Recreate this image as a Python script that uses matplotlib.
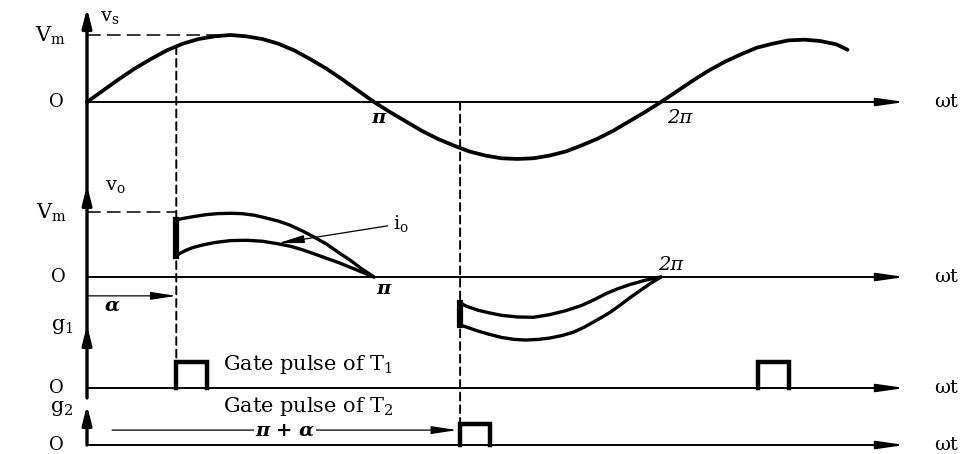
import numpy as np
import matplotlib.pyplot as plt
from matplotlib.patches import ConnectionPatch

plt.rcParams['font.family'] = ['DejaVu Serif']
plt.rcParams['mathtext.fontset'] = 'dejavuserif'

# firing angle and the second firing point, in degrees
alpha_deg = 56
pi_alpha_deg = 234

# supply voltage v_s (per unit of Vm)
vs_deg = [0, 10, 20, 30, 40, 50, 60, 70, 80, 90, 100, 110, 120, 130, 140, 150, 160, 170, 180,
          190, 200, 210, 220, 230, 240, 250, 260, 270, 280, 290, 300, 310, 320, 330, 340, 350, 360,
          370, 380, 390, 400, 410, 420, 430, 440, 450, 460, 470, 477]
vs_val = [0, .17, .34, .50, .64, .77, .87, .94, .98, 1.0, .98, .94, .87, .77, .64, .50, .34, .17, 0,
          -.15, -.29, -.43, -.55, -.65, -.74, -.80, -.84, -.85, -.84, -.80, -.74, -.65, -.55, -.43,
          -.29, -.15, 0,
          .16, .32, .47, .60, .71, .81, .87, .92, .93, .91, .86, .78]

# output waveform, positive half: upper edge (v_o) and lower edge (i_o)
vo_pos_deg = [56, 60, 67, 75, 82, 90, 97, 105, 112, 120, 127, 135, 142, 150, 157, 165, 172, 180]
vo_pos_val = [.88, .90, .93, .96, .975, .98, .975, .95, .91, .86, .80, .71, .62, .51, .39, .26, .13, 0]
io_pos_deg = [56, 58, 62, 66, 72, 80, 90, 100, 110, 120, 128, 135, 142, 150, 158, 165, 172, 180]
io_pos_val = [.32, .36, .41, .45, .49, .53, .56, .565, .55, .51, .47, .42, .36, .29, .22, .15, .08, 0]

# output waveform, negative half
vo_neg_deg = [234, 238, 245, 252, 260, 270, 280, 290, 300, 310, 318, 326, 333, 340, 350, 360]
vo_neg_val = [-.40, -.45, -.51, -.55, -.59, -.615, -.62, -.58, -.52, -.44, -.35, -.25, -.18,
              -.12, -.05, 0]
io_neg_deg = [234, 238, 245, 252, 260, 268, 275, 283, 290, 298, 305, 312, 320, 327, 334, 341,
              348, 354, 360]
io_neg_val = [-.74, -.77, -.83, -.88, -.93, -.96, -.97, -.96, -.94, -.90, -.85, -.77, -.66,
              -.56, -.44, -.31, -.19, -.09, 0]

# gate pulses (start angle, width)
g1_starts = [56, 421]
g2_starts = [234]
pulse_width = 19

W, H = 971, 454
deg_per_px = 180 / 287
x0_px = 87
XLIM = (-x0_px * deg_per_px, (W - x0_px) * deg_per_px)
X_END = (905 - x0_px) * deg_per_px   # tip of the wt arrows
X_WT = (946 - x0_px) * deg_per_px

fig = plt.figure(figsize=(W / 100, H / 100), dpi=100)


def panel(row_top, row_bot, zero_row, px_unit):
    ax = fig.add_axes([0, 1 - row_bot / H, 1, (row_bot - row_top) / H])
    ax.set_xlim(*XLIM)
    ax.set_ylim((zero_row - row_bot) / px_unit, (zero_row - row_top) / px_unit)
    ax.set_axis_off()
    ax.patch.set_alpha(0)
    return ax


ax1 = panel(0, 190, 102, 67)
ax2 = panel(175, 340, 277, 65)
ax3 = panel(318, 398, 388, 26)
ax4 = panel(395, 454, 445, 21)

head_v = dict(arrowstyle='-|>,head_length=0.8,head_width=0.2', color='k',
              lw=2.4, shrinkA=0, shrinkB=0, mutation_scale=14)
head_h = dict(arrowstyle='-|>,head_length=1.2,head_width=0.17', color='k',
              lw=1.4, shrinkA=0, shrinkB=0, mutation_scale=14)
head_thin = dict(arrowstyle='-|>,head_length=1.3,head_width=0.2', color='k',
                 lw=0.9, shrinkA=0, shrinkB=0, mutation_scale=12)


def axes_lines(ax, y_bottom, y_tip):
    ax.annotate('', xy=(0, y_tip), xytext=(0, y_bottom), arrowprops=head_v,
                annotation_clip=False)
    ax.annotate('', xy=(X_END, 0), xytext=(0, 0), arrowprops=head_h,
                annotation_clip=False)
    ax.text(X_WT, 0, 'ωt', fontsize=14, ha='center', va='center')


axes_lines(ax1, ax1.get_ylim()[0], (102 - 8) / 67)
axes_lines(ax2, ax2.get_ylim()[0], (277 - 185) / 65)
axes_lines(ax3, ax3.get_ylim()[0], (388 - 325) / 26)
axes_lines(ax4, 0, (445 - 405) / 21)

lab = dict(fontsize=15, ha='right', va='center')
zero = dict(fontsize=13, ha='center', va='center')
curve = dict(color='k', lw=2.4, clip_on=False, solid_capstyle='round', solid_joinstyle='round')

# --- supply voltage panel
ax1.plot(vs_deg, vs_val, **dict(curve, lw=2.7))
ax1.plot([0, 82], [1, 1], color='k', lw=1.1, ls=(0, (9, 4)))
ax1.text(-13.5, 0.98, r'V$_\mathrm{m}$', **lab)
ax1.text(-19, 0, 'O', **zero)
ax1.text(8, 1.27, r'v$_\mathrm{s}$', fontsize=14, ha='left', va='center')
ax1.text(183, -0.24, 'π', fontsize=14, weight='bold', style='italic', ha='center', va='center')
ax1.text(372, -0.24, '2π', fontsize=14, style='italic', ha='center', va='center')

# --- output panel
ax2.plot(vo_pos_deg, vo_pos_val, **curve)
ax2.plot(io_pos_deg, io_pos_val, **curve)
ax2.plot([alpha_deg, alpha_deg], [vo_pos_val[0], io_pos_val[0]], color='k', lw=4.5)
ax2.plot(vo_neg_deg, vo_neg_val, **curve)
ax2.plot(io_neg_deg, io_neg_val, **curve)
ax2.plot([pi_alpha_deg, pi_alpha_deg], [vo_neg_val[0], io_neg_val[0]], color='k', lw=4.5,
         clip_on=False)
ax2.plot([0, alpha_deg], [1, 1], color='k', lw=1.1, ls=(0, (9, 4)))
ax2.text(-12.5, 0.98, r'V$_\mathrm{m}$', **lab)
ax2.text(-18, 0, 'O', **zero)
ax2.text(11, 1.4, r'v$_\mathrm{o}$', fontsize=14, ha='left', va='center')
ax2.text(186, -0.18, 'π', fontsize=14, weight='bold', style='italic', ha='center', va='center')
ax2.text(366, 0.18, '2π', fontsize=14, style='italic', ha='center', va='center')
ax2.annotate('', xy=(alpha_deg, -0.29), xytext=(0, -0.29), annotation_clip=False,
             arrowprops=head_thin)
ax2.text(16, -0.44, 'α', fontsize=14, weight='bold', style='italic', ha='center', va='center')
ax2.annotate(r'i$_\mathrm{o}$', xy=(120, 0.52), xytext=(192, 0.82), fontsize=14,
             ha='left', va='center', arrowprops=dict(head_thin, shrinkA=2))

# --- gate pulses
for ax, starts in ((ax3, g1_starts), (ax4, g2_starts)):
    for s in starts:
        ax.plot([s, s, s + pulse_width, s + pulse_width], [0, 1, 1, 0],
                color='k', lw=3.2, solid_joinstyle='miter', clip_on=False)

ax3.text(-8.5, 2.35, r'g$_1$', **lab)
ax3.text(-19, 0, 'O', **zero)
ax3.text(85, 0.92, r'Gate pulse of T$_1$', fontsize=15, ha='left', va='center')
ax4.text(-8.5, 1.76, r'g$_2$', **lab)
ax4.text(-19, 0, 'O', **zero)
ax4.text(85, 1.81, r'Gate pulse of T$_2$', fontsize=15, ha='left', va='center')
ax4.annotate('', xy=(pi_alpha_deg - 2, 0.71), xytext=(15.7, 0.71), annotation_clip=False,
             arrowprops=head_thin)
ax4.text(124, 0.71, 'π + α', fontsize=14, weight='bold', style='italic', ha='center',
         va='center', bbox=dict(facecolor='white', edgecolor='none', pad=1))

# --- dashed projection lines
vs_alpha = np.interp(alpha_deg, vs_deg, vs_val)
for xa, ya, axa, axb in ((alpha_deg, vs_alpha, ax1, ax3), (pi_alpha_deg, 0, ax1, ax4)):
    con = ConnectionPatch(xyA=(xa, ya), coordsA=axa.transData, xyB=(xa, 1),
                          coordsB=axb.transData, color='k', lw=1.4, ls=(0, (4, 2.5)))
    fig.add_artist(con)

fig.savefig('out.png', dpi=100)
